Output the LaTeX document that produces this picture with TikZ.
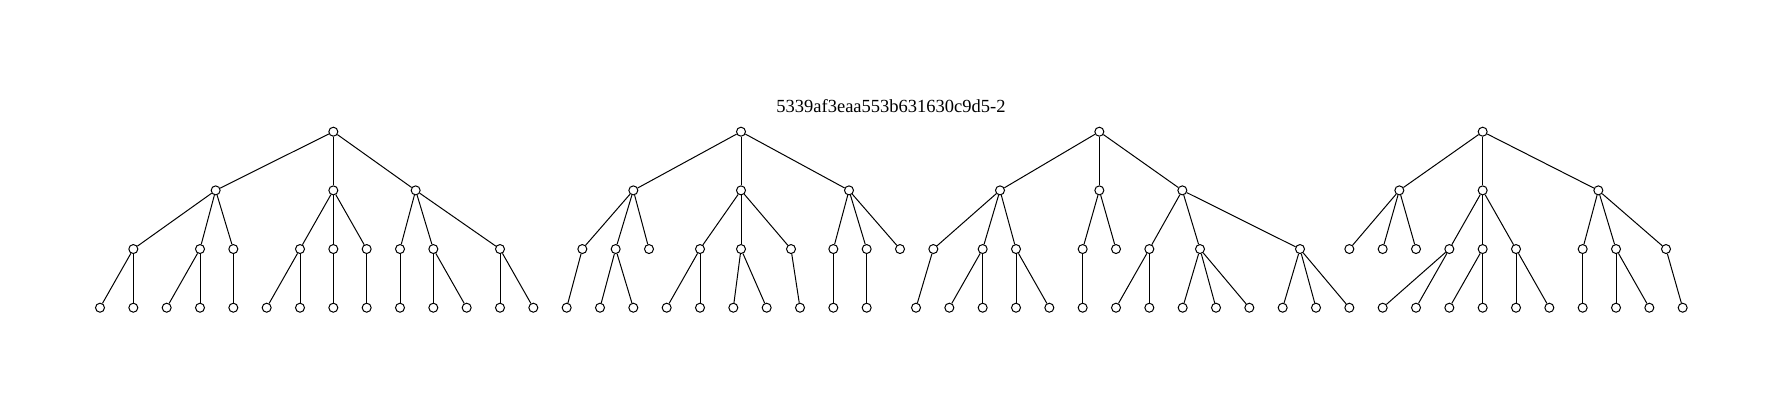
\documentclass[tikz,border=0pt]{standalone}
\usepackage{fontspec}
\setmainfont{Liberation Serif}
\usepackage{tikz}

\begin{document}
\begin{tikzpicture}
      [vert/.style={circle, draw, line width=1pt, inner sep=0pt, minimum size=9pt, fill=white},
        x=33.333pt, y=-58.67pt, line width=1pt]
      \useasboundingbox (-3,-2.2447) rectangle (50.49,4.7264);
      \node[anchor=base] (title) at (23.73,-0.324) {\fontsize{18.5}{20}\selectfont 5339af3eaa553b631630c9d5-2};
      % leaves
      \foreach \k in {0,...,23} \node[vert] (n\k) at (\k,3) {};
      \foreach \k in {24,...,47} \node[vert] (n\k) at (\k+0.48,3) {};
      % first tree
      \node[vert] (r1) at (7,0) {};
      \node[vert] (a) at (3.47,1) {};
      \node[vert] (b) at (7,1) {};
      \node[vert] (c) at (9.47,1) {};
      \node[vert] (a1) at (1,2) {};
      \node[vert] (a2) at (3,2) {};
      \node[vert] (a3) at (4,2) {};
      \node[vert] (b1) at (6,2) {};
      \node[vert] (b2) at (7,2) {};
      \node[vert] (b3) at (8,2) {};
      \node[vert] (c1) at (9,2) {};
      \node[vert] (c2) at (10,2) {};
      \node[vert] (c3) at (12,2) {};
      \foreach \u/\v in {r1/a, r1/b, r1/c, a/a1, a/a2, a/a3, b/b1, b/b2, b/b3,
          c/c1, c/c2, c/c3, a1/n0, a1/n1, a2/n2, a2/n3, a3/n4, b1/n5, b1/n6,
          b2/n7, b3/n8, c1/n9, c2/n10, c2/n11, c3/n12, c3/n13}
        \draw (\u) -- (\v);
      % second tree
      \node[vert] (r2) at (19.23,0) {};
      \node[vert] (d) at (16,1) {};
      \node[vert] (e) at (19.23,1) {};
      \node[vert] (f) at (22.47,1) {};
      \node[vert] (d1) at (14.47,2) {};
      \node[vert] (d2) at (15.47,2) {};
      \node[vert] (d3) at (16.47,2) {};
      \node[vert] (e1) at (18,2) {};
      \node[vert] (e2) at (19.23,2) {};
      \node[vert] (e3) at (20.73,2) {};
      \node[vert] (f1) at (22,2) {};
      \node[vert] (f2) at (23,2) {};
      \node[vert] (f3) at (24,2) {};
      \foreach \u/\v in {r2/d, r2/e, r2/f, d/d1, d/d2, d/d3, e/e1, e/e2, e/e3,
          f/f1, f/f2, f/f3, d1/n14, d2/n15, d2/n16, e1/n17, e1/n18, e2/n19,
          e2/n20, e3/n21, f1/n22, f2/n23}
        \draw (\u) -- (\v);
      % third tree
      \node[vert] (r3) at (29.98,0) {};
      \node[vert] (g) at (27,1) {};
      \node[vert] (h) at (29.98,1) {};
      \node[vert] (i) at (32.47,1) {};
      \node[vert] (g1) at (25,2) {};
      \node[vert] (g2) at (26.48,2) {};
      \node[vert] (g3) at (27.48,2) {};
      \node[vert] (h1) at (29.48,2) {};
      \node[vert] (h2) at (30.48,2) {};
      \node[vert] (i1) at (31.48,2) {};
      \node[vert] (i2) at (33,2) {};
      \node[vert] (i3) at (36,2) {};
      \foreach \u/\v in {r3/g, r3/h, r3/i, g/g1, g/g2, g/g3, h/h1, h/h2,
          i/i1, i/i2, i/i3, g1/n24, g2/n25, g2/n26, g3/n27, g3/n28, h1/n29,
          i1/n30, i1/n31, i2/n32, i2/n33, i2/n34, i3/n35, i3/n36, i3/n37}
        \draw (\u) -- (\v);
      % fourth tree
      \node[vert] (r4) at (41.48,0) {};
      \node[vert] (j) at (38.98,1) {};
      \node[vert] (k) at (41.48,1) {};
      \node[vert] (m) at (44.95,1) {};
      \node[vert] (j1) at (37.48,2) {};
      \node[vert] (j2) at (38.48,2) {};
      \node[vert] (j3) at (39.48,2) {};
      \node[vert] (k1) at (40.48,2) {};
      \node[vert] (k2) at (41.48,2) {};
      \node[vert] (k3) at (42.48,2) {};
      \node[vert] (m1) at (44.48,2) {};
      \node[vert] (m2) at (45.48,2) {};
      \node[vert] (m3) at (46.98,2) {};
      \foreach \u/\v in {r4/j, r4/k, r4/m, j/j1, j/j2, j/j3, k/k1, k/k2, k/k3,
          m/m1, m/m2, m/m3, k1/n38, k1/n39, k2/n40, k2/n41, k3/n42, k3/n43,
          m1/n44, m2/n45, m2/n46, m3/n47}
        \draw (\u) -- (\v);
    \end{tikzpicture}
\end{document}
